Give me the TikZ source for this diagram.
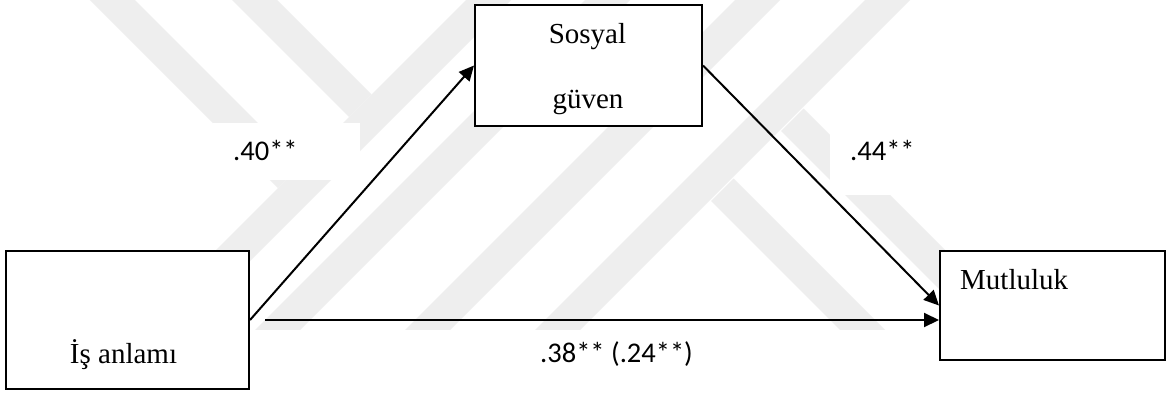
\documentclass[tikz,border=0pt]{standalone}
\usepackage{fontspec}
\setmainfont{Liberation Serif}
\newfontfamily\calfont{Carlito}
\usetikzlibrary{arrows.meta}
\definecolor{wm}{RGB}{238,238,238}
\begin{document}
\begin{tikzpicture}[x=1pt,y=-1pt,
  box/.style={draw=black, line width=2pt, fill=white, inner sep=0pt},
  serif/.style={font=\fontsize{29}{34}\selectfont, inner sep=0pt},
  num/.style={font=\calfont\fontsize{28.5}{34}\selectfont, inner sep=0pt},
  whitebg/.style={fill=white, draw=none, inner sep=0pt},
  conn/.style={line width=2pt, -{Triangle[length=15pt,width=14pt]}},
  band/.style={fill=wm, draw=none}]
\useasboundingbox (0,0) rectangle (1167,394);
\fill[white] (0,0) rectangle (1167,394);
% faint watermark
\begin{scope}
\clip (0,0) rectangle (1167,329);
\fill[band] (476,-10) -- (521,-10) -- (171,340) -- (126,340) -- cycle;
\fill[band] (595,-10) -- (640,-10) -- (290,340) -- (245,340) -- cycle;
\fill[band] (745,-10) -- (790,-10) -- (440,340) -- (395,340) -- cycle;
\fill[band] (875,-10) -- (920,-10) -- (570,340) -- (525,340) -- cycle;
\fill[band] (80,-10) -- (125,-10) -- (300.5,165.5) -- (278,188) -- cycle;
\fill[band] (222,-10) -- (267,-10) -- (371.5,94.5) -- (349,117) -- cycle;
\fill[band] (711,201) -- (733.5,178.5) -- (895,340) -- (850,340) -- cycle;
\fill[band] (781,131) -- (803.5,108.5) -- (1035,340) -- (990,340) -- cycle;
\end{scope}
% label backgrounds
\node[whitebg, minimum width=147pt, minimum height=57pt] (L1bg) at (286.5,151.5) {};
\node[whitebg, minimum width=130pt, minimum height=62pt] (L2bg) at (895,164) {};
% boxes
\node[box, minimum width=243pt, minimum height=138pt] (A) at (127.5,320) {};
\node[box, minimum width=227pt, minimum height=121pt] (S) at (588.5,65.5) {};
\node[box, minimum width=225pt, minimum height=109pt] (M) at (1052.5,305.5) {};
% connectors
\coordinate (h0) at (265,320);
\draw[conn] (A.east) -- (S.west);
\draw[conn] (S.east) -- (M.west);
\draw[conn] (h0) -- (h0 -| M.west);
% texts
\node[serif, anchor=base] (At) at (123.5,363) {İş anlamı};
\node[serif, anchor=base] (St1) at (587.5,43) {Sosyal};
\node[serif, anchor=base] (St2) at (588,108) {güven};
\node[serif, anchor=base west] (Mt) at (960,289) {Mutluluk};
\node[num, anchor=base west] (L1) at (233,160) {.40**};
\node[num, anchor=base west] (L2) at (850,160) {.44**};
\node[num, anchor=base west] (L3) at (540,362) {.38** (.24**)};
\end{tikzpicture}
\end{document}
